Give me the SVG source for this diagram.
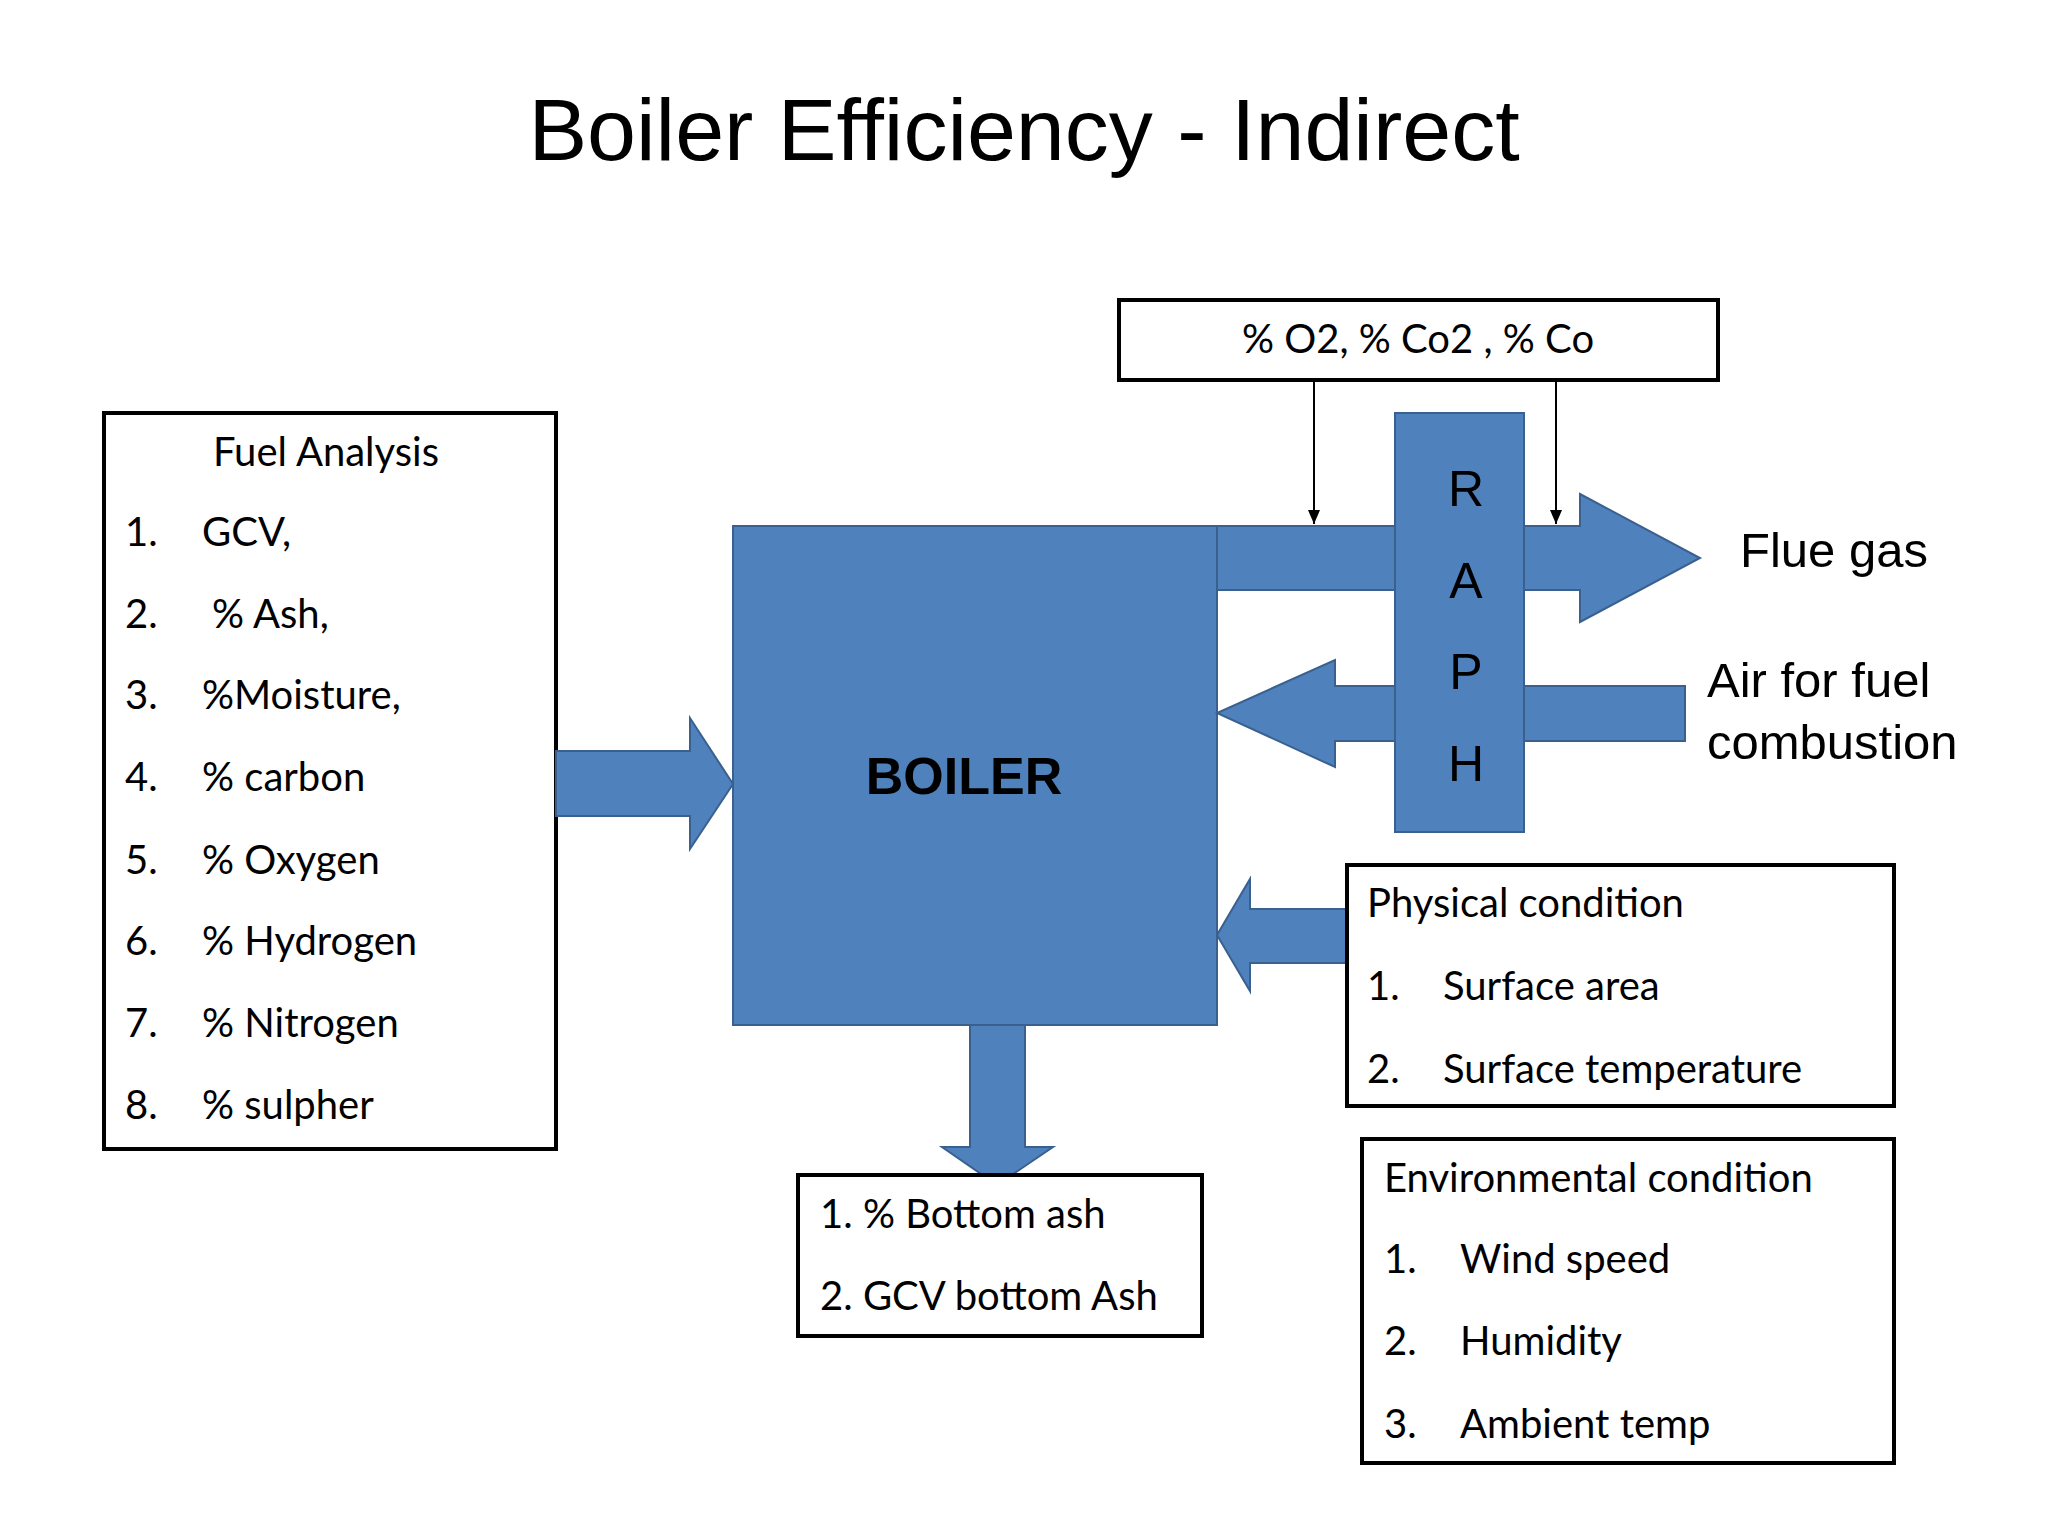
<svg xmlns="http://www.w3.org/2000/svg" width="2048" height="1536" viewBox="0 0 2048 1536">
<style>
.bx{fill:#fff;stroke:#000;stroke-width:4}
.bl{fill:#4F81BD;stroke:#3A6090;stroke-width:2}
.t{font-family:Lato,"Open Sans",sans-serif;font-size:40px;fill:#000}
.a{font-family:"Liberation Sans",Arial,sans-serif;fill:#000}
.ln{stroke:#000;stroke-width:2;fill:none}
</style>
<defs><marker id="ah" markerWidth="16" markerHeight="16" refX="14" refY="8" orient="auto" markerUnits="userSpaceOnUse"><path d="M0,2 L14,8 L0,14 z" fill="#000"/></marker></defs>
<rect width="2048" height="1536" fill="#fff"/>
<text class="a" x="1024" y="160" font-size="88" text-anchor="middle">Boiler Efficiency - Indirect</text>
<g id="fuel">
<rect class="bx" x="104" y="413" width="452" height="736"/>
<text class="t" x="213" y="466">Fuel Analysis</text>
<g class="t">
<text x="125" y="546">1.</text><text x="202" y="546">GCV,</text>
<text x="125" y="628">2.</text><text x="212" y="628">% Ash,</text>
<text x="125" y="709">3.</text><text x="202" y="709">%Moisture,</text>
<text x="125" y="791">4.</text><text x="202" y="791">% carbon</text>
<text x="125" y="874">5.</text><text x="202" y="874">% Oxygen</text>
<text x="125" y="955">6.</text><text x="202" y="955">% Hydrogen</text>
<text x="125" y="1037">7.</text><text x="202" y="1037">% Nitrogen</text>
<text x="125" y="1119">8.</text><text x="202" y="1119">% sulpher</text>
</g>
</g>
<g id="boiler">
<rect class="bl" x="733" y="526" width="484" height="499"/>
<text class="a" x="964" y="794" font-size="52" font-weight="bold" text-anchor="middle">BOILER</text>
</g>
<g id="connectors">
<path class="bl" d="M556,751 H690 V718 L733,784 L690,849 V816 H556 Z"/>
<rect class="bl" x="1217" y="526" width="178" height="64"/>
<path class="bl" d="M1524,526 H1580 V494 L1700,558 L1580,622 V590 H1524 Z"/>
<rect class="bl" x="1524" y="686" width="161" height="55"/>
<path class="bl" d="M1395,686 H1335 V660 L1217,713 L1335,767 V741 H1395 Z"/>
<path class="bl" d="M1347,909 H1250 V879 L1217,935 L1250,991 V963 H1347 Z"/>
<path class="bl" d="M970,1025 H1025 V1147 H1053 L997,1185 L942,1147 H970 Z"/>
<line class="ln" x1="1314" y1="380" x2="1314" y2="524" marker-end="url(#ah)"/>
<line class="ln" x1="1556" y1="380" x2="1556" y2="524" marker-end="url(#ah)"/>
</g>
<g id="raph">
<rect class="bl" x="1395" y="413" width="129" height="419"/>
<g class="a" font-size="50" text-anchor="middle">
<text x="1466" y="506">R</text><text x="1466" y="598">A</text><text x="1466" y="689">P</text><text x="1466" y="781">H</text>
</g>
</g>
<g id="gases">
<rect class="bx" x="1119" y="300" width="599" height="80"/>
<text class="t" x="1418" y="353" text-anchor="middle">% O2, % Co2 , % Co</text>
</g>
<text class="a" x="1740" y="567" font-size="49">Flue gas</text>
<text class="a" x="1707" y="697" font-size="49">Air for fuel</text>
<text class="a" x="1707" y="759" font-size="49">combustion</text>
<g id="physical">
<rect class="bx" x="1347" y="865" width="547" height="241" stroke-width="2"/>
<text class="t" x="1367" y="917">Physical condition</text>
<text class="t" x="1367" y="1000">1.</text><text class="t" x="1443" y="1000">Surface area</text>
<text class="t" x="1367" y="1083">2.</text><text class="t" x="1443" y="1083">Surface temperature</text>
</g>
<g id="environmental">
<rect class="bx" x="1362" y="1139" width="532" height="324" stroke-width="2"/>
<text class="t" x="1384" y="1192">Environmental condition</text>
<text class="t" x="1384" y="1273">1.</text><text class="t" x="1460" y="1273">Wind speed</text>
<text class="t" x="1384" y="1355">2.</text><text class="t" x="1460" y="1355">Humidity</text>
<text class="t" x="1384" y="1438">3.</text><text class="t" x="1460" y="1438">Ambient temp</text>
</g>
<g id="ash">
<rect class="bx" x="798" y="1175" width="404" height="161"/>
<text class="t" x="820" y="1228">1. % Bottom ash</text>
<text class="t" x="820" y="1310">2. GCV bottom Ash</text>
</g>
</svg>
